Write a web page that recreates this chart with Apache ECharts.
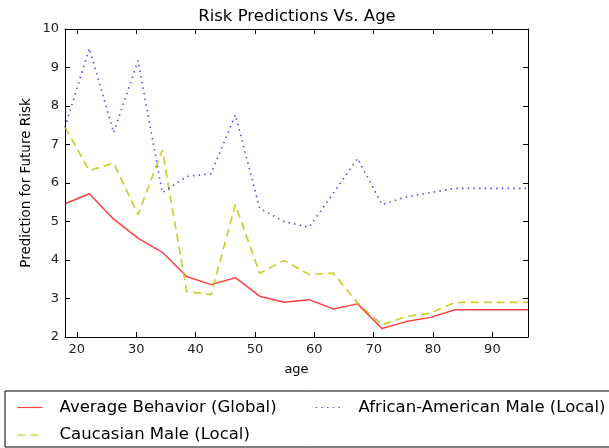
<!DOCTYPE html>
<html>
<head>
<meta charset="utf-8">
<script src="https://cdn.jsdelivr.net/npm/echarts@6/dist/echarts.min.js"></script>
<style>
  html, body { margin: 0; padding: 0; background: #fff; }
  #main { width: 609px; height: 448px; }
</style>
</head>
<body>
<div id="main"></div>
<script>
// ages at which the predictions were sampled
var ages = [18, 22.1, 26.2, 30.3, 34.4, 38.5, 42.6, 46.7, 50.8, 54.9,
            59.1, 63.2, 67.3, 71.4, 75.5, 79.6, 83.7, 87.8, 91.9, 96];
var avgGlobal = [5.46, 5.72, 5.06, 4.57, 4.2, 3.57, 3.36, 3.54, 3.06, 2.9,
                 2.97, 2.73, 2.86, 2.22, 2.4, 2.51, 2.71, 2.71, 2.71, 2.71];
var caucasian = [7.45, 6.32, 6.52, 5.18, 6.85, 3.18, 3.1, 5.44, 3.65, 3.99,
                 3.62, 3.66, 2.88, 2.32, 2.53, 2.62, 2.9, 2.9, 2.9, 2.9];
var africanAm = [7.45, 9.5, 7.31, 9.18, 5.75, 6.17, 6.24, 7.77, 5.34, 5.0,
                 4.85, 5.73, 6.64, 5.44, 5.64, 5.75, 5.86, 5.86, 5.86, 5.86];
var seriesNames = ['Average Behavior (Global)', 'Caucasian Male (Local)', 'African-American Male (Local)'];

function pairs(ys) {
  return ages.map(function (a, i) { return [a, ys[i]]; });
}

var font = 'DejaVu Sans';
var axisCommon = {
  axisLine: { show: true, onZero: false, lineStyle: { color: '#000', width: 1 } },
  axisTick: { show: true, inside: true, length: 5, lineStyle: { color: '#000' } },
  splitLine: { show: false }
};
var legendText = { fontFamily: font, fontSize: 16.5, color: '#000', lineHeight: 16 };

var chart = echarts.init(document.getElementById('main'));
var option = {
  backgroundColor: '#fff',
  animation: false,
  title: {
    text: 'Risk Predictions Vs. Age',
    left: 297, top: 8, padding: 0, textAlign: 'center',
    textStyle: { fontFamily: font, fontSize: 16.5, fontWeight: 'normal', color: '#000' }
  },
  grid: { left: 65, right: 81, top: 29, bottom: 111, outerBoundsMode: 'none' },
  legend: [
    {
      data: [seriesNames[0], seriesNames[1]],
      orient: 'vertical', left: 17, top: 399, padding: 0,
      itemWidth: 25, itemHeight: 16, itemGap: 10.6,
      itemStyle: { opacity: 0 },
      lineStyle: { width: 1.2 },
      textStyle: Object.assign({ padding: [0, 0, 0, 12] }, legendText)
    },
    {
      data: [seriesNames[2]],
      orient: 'vertical', left: 315, top: 399, padding: 0,
      itemWidth: 25, itemHeight: 16,
      itemStyle: { opacity: 0 },
      lineStyle: { width: 1.2 },
      textStyle: Object.assign({ padding: [0, 0, 0, 13] }, legendText)
    }
  ],
  graphic: [{
    type: 'rect', z: 10,
    shape: { x: 5, y: 391, width: 700, height: 56 },
    style: { fill: 'none', stroke: '#000', lineWidth: 1 }
  }],
  xAxis: [
    Object.assign({
      type: 'value', min: 18, max: 96, minInterval: 10, maxInterval: 10,
      name: 'age', nameLocation: 'middle', nameGap: 26, nameMoveOverlap: false,
      nameTextStyle: { fontFamily: font, fontSize: 13, color: '#000' },
      axisLabel: { fontFamily: font, fontSize: 13, color: '#222', margin: 6, showMinLabel: false, showMaxLabel: false }
    }, axisCommon),
    Object.assign({
      type: 'value', min: 18, max: 96, minInterval: 10, maxInterval: 10, position: 'top',
      axisLabel: { show: false }
    }, axisCommon)
  ],
  yAxis: [
    Object.assign({
      type: 'value', min: 2, max: 10, interval: 1,
      name: 'Prediction for Future Risk', nameLocation: 'middle', nameGap: 32, nameMoveOverlap: false,
      nameTextStyle: { fontFamily: font, fontSize: 13.5, color: '#000' },
      axisLabel: { fontFamily: font, fontSize: 13, color: '#222', margin: 6 }
    }, axisCommon),
    Object.assign({
      type: 'value', min: 2, max: 10, interval: 1, position: 'right',
      axisLabel: { show: false }
    }, axisCommon)
  ],
  series: [
    {
      name: seriesNames[0], type: 'line', data: pairs(avgGlobal),
      symbol: 'none', color: 'rgba(255,0,0,0.75)',
      lineStyle: { width: 1.5, type: 'solid', color: 'rgba(255,0,0,0.75)' }
    },
    {
      name: seriesNames[1], type: 'line', data: pairs(caucasian),
      symbol: 'none', color: 'rgba(191,191,0,0.8)',
      lineStyle: { width: 1.7, type: [8, 5], color: 'rgba(191,191,0,0.8)' }
    },
    {
      name: seriesNames[2], type: 'line', data: pairs(africanAm),
      symbol: 'none', color: 'rgba(0,0,255,0.7)',
      lineStyle: { width: 1.6, type: [1.5, 4.2], color: 'rgba(0,0,255,0.7)' }
    }
  ]
};
chart.setOption(option);
</script>
</body>
</html>
